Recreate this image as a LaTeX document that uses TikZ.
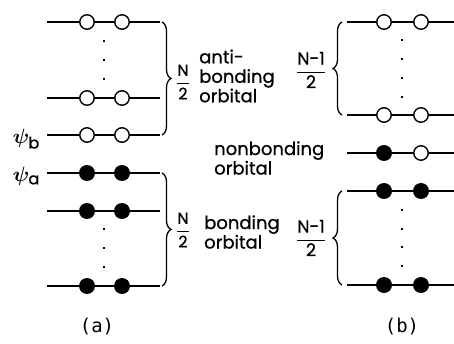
\documentclass[tikz,border=0pt]{standalone}
\usepackage{amsmath,bm}
\usepackage{fontspec}
\setmainfont{Poppins}[FakeBold=0.8]
\newfontfamily\capfont{DejaVu Sans Mono}
\usetikzlibrary{decorations.pathreplacing,calc}
\newcommand{\myfrac}[2]{$\dfrac{\mbox{#1}}{\mbox{#2}}$}
\begin{document}
\begin{tikzpicture}[x=1pt,y=-1pt,
  level/.style={line width=1.8pt},
  empty/.style={circle,draw,line width=1.4pt,fill=white,minimum size=14.5pt,inner sep=0pt},
  full/.style={circle,fill=black,minimum size=16pt,inner sep=0pt},
  vdot/.style={fill=black,minimum width=2.4pt,minimum height=2pt,inner sep=0pt},
  brc/.style={decorate,decoration={brace,amplitude=9pt},line width=1.3pt},
  lbl/.style={font=\fontsize{18}{19.5}\selectfont,align=left,inner sep=0pt},
  fraclbl/.style={font=\fontsize{16}{16}\selectfont,inner sep=0pt},
  fraclblb/.style={font=\fontsize{17.5}{17.5}\selectfont,inner sep=0pt},
  caplbl/.style={font=\capfont\fontsize{19}{19}\selectfont,inner sep=0pt}]
\useasboundingbox (0,0) rectangle (454,344);
% ---------- (a) ----------
\foreach \n/\y in {a1/22,a2/98,a3/135,a4/173,a5/211,a6/286}{
  \coordinate (\n L) at (47,\y);
  \coordinate (\n R) at (160,\y);
  \draw[level] (\n L) -- (\n R);
}
\foreach \n in {a1,a2,a3}{
  \node[empty] (\n c1) at ($(\n L)+(40,0)$) {};
  \node[empty] (\n c2) at ($(\n L)+(75,0)$) {};
}
\foreach \n in {a4,a5,a6}{
  \node[full] (\n c1) at ($(\n L)+(40,0)$) {};
  \node[full] (\n c2) at ($(\n L)+(75,0)$) {};
}
\foreach \y [count=\i] in {41,60,79}{\node[vdot] (ad\i) at (104,\y) {};}
\foreach \y [count=\i] in {229,248,267}{\node[vdot] (ae\i) at (104,\y) {};}
\node[font=\fontsize{22}{22}\selectfont,anchor=east,inner sep=0pt] (psib) at (40,139) {$\bm{\psi}_{\mbox{\fontsize{16}{16}\selectfont b}}$};
\node[font=\fontsize{22}{22}\selectfont,anchor=east,inner sep=0pt] (psia) at (40,176) {$\bm{\psi}_{\mbox{\fontsize{16}{16}\selectfont a}}$};
\draw[brc] (162,22) -- (162,135);
\draw[brc] (162,173) -- (162,286);
\node[fraclbl] (fa1) at (183,82) {\myfrac{N}{2}};
\node[lbl,anchor=west] (ta1) at (199,76) {anti-\\bonding\\orbital};
\node[fraclbl] (fa2) at (183,230) {\myfrac{N}{2}};
\node[lbl,anchor=west] (ta2) at (204,232) {bonding\\orbital};
\node[lbl,anchor=west] (tn) at (214,158) {nonbonding\\orbital};
\node[caplbl] (capa) at (97,327) {(a)};
% ---------- (b) ----------
\foreach \n/\y in {b1/22,b2/115,b3/153,b4/191,b5/285}{
  \coordinate (\n L) at (347,\y);
  \coordinate (\n R) at (454,\y);
  \draw[level] (\n L) -- (\n R);
}
\foreach \n in {b1,b2}{
  \node[empty] (\n c1) at ($(\n L)+(37,0)$) {};
  \node[empty] (\n c2) at ($(\n L)+(74,0)$) {};
}
\node[full] (b3c1) at ($(b3L)+(37,0)$) {};
\node[empty] (b3c2) at ($(b3L)+(74,0)$) {};
\foreach \n in {b4,b5}{
  \node[full] (\n c1) at ($(\n L)+(37,0)$) {};
  \node[full] (\n c2) at ($(\n L)+(74,0)$) {};
}
\foreach \y [count=\i] in {40,59,78,97}{\node[vdot] (bd\i) at (402,\y) {};}
\foreach \y [count=\i] in {210,229,247,266}{\node[vdot] (be\i) at (402,\y) {};}
\draw[brc] (342,115) -- (342,22);
\draw[brc] (342,285) -- (342,191);
\node[fraclblb] (fb1) at (311,70) {\myfrac{N-1}{2}};
\node[fraclblb] (fb2) at (311,238) {\myfrac{N-1}{2}};
\node[caplbl] (capb) at (402,327) {(b)};
\end{tikzpicture}
\end{document}
